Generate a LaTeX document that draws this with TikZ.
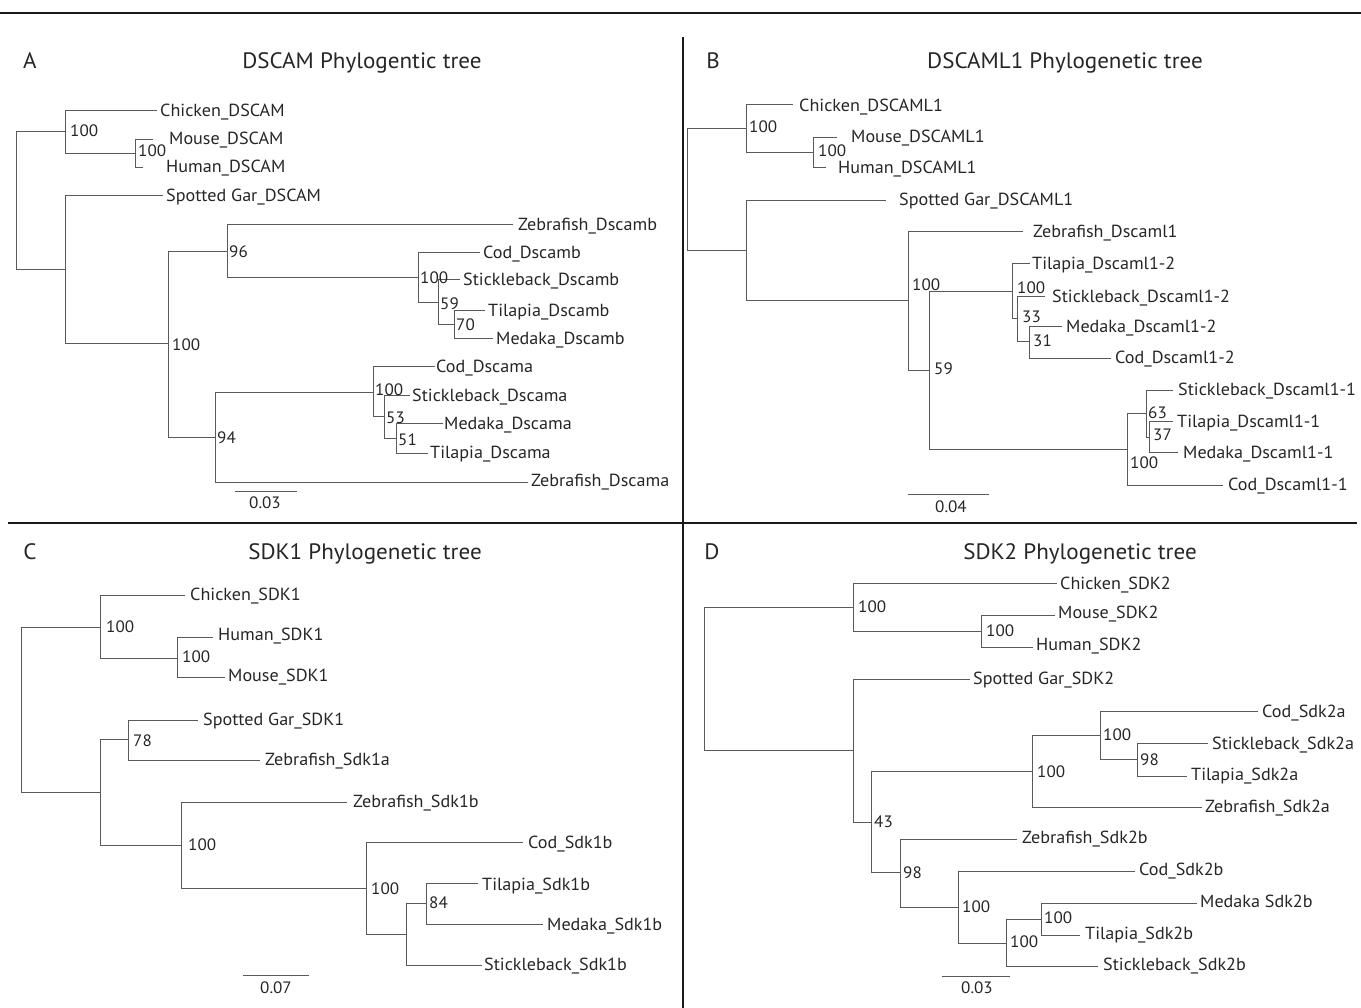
\documentclass[tikz,border=0pt]{standalone}
\usepackage{fontspec}
\setmainfont{PT Sans}[FakeStretch=1.035]
\newcommand\mytip[4]{\coordinate (#1) at (#2); \node[leaf] (#1-l) at (#3) {#4};}
\newcommand\mybs[3]{\node[bs] (#1) at (#2) {#3};}
\newcommand\clade[3]{\draw[branch] (#1) |- (#2) (#1) |- (#3);}
\begin{document}
\begin{tikzpicture}[x=1pt,y=-1pt,
  branch/.style={draw=black!65, line width=1pt},
  leaf/.style={anchor=base west, inner sep=0pt, yshift=-5.5pt, text=black!85, font=\fontsize{17.5}{20}\selectfont},
  bs/.style={leaf, font=\fontsize{16.5}{20}\selectfont},
  ttl/.style={anchor=base, inner sep=0pt, yshift=-7pt, text=black!85, font=\fontsize{22.3}{24}\selectfont},
  sclab/.style={anchor=base, inner sep=0pt, yshift=-5.5pt, text=black!85, font=\fontsize{16.5}{20}\selectfont},
  frame/.style={line width=2.5pt, black!90}]
\useasboundingbox (0,0) rectangle (1361,1008);
% frame
\coordinate (t1) at (0,13); \coordinate (t2) at (1361,13);
\coordinate (v1) at (683,37); \coordinate (v2) at (683,1008);
\coordinate (h1) at (8,523); \coordinate (h2) at (1357,523);
\draw[frame] (t1) -- (t2);
\draw[frame] (v1) -- (v2);
\draw[frame] (h1) -- (h2);
% titles
\node[ttl] (LA) at (30,62) {A};
\node[ttl] (TA) at (362,62) {DSCAM Phylogentic tree};
\node[ttl] (LB) at (713,62) {B};
\node[ttl] (TB) at (1065,62) {DSCAML1 Phylogenetic tree};
\node[ttl] (LC) at (30,552) {C};
\node[ttl] (TC) at (365,552) {SDK1 Phylogenetic tree};
\node[ttl] (LD) at (712,552) {D};
\node[ttl] (TD) at (1080,552) {SDK2 Phylogenetic tree};

% ================= Panel A
\coordinate (A0) at (16,201);
\coordinate (A1) at (65,132);
\coordinate (A2) at (135,154);
\coordinate (A3) at (65,270);
\coordinate (A4) at (168,344);
\coordinate (A5) at (227,252);
\coordinate (A6) at (418,278);
\coordinate (A7) at (438,303);
\coordinate (A7b) at (454,325);
\coordinate (A8) at (215,437);
\coordinate (A9) at (373,393);
\coordinate (A10) at (384,417);
\coordinate (A11) at (396,438);
\mytip{Achk}{157,111}{160,111}{Chicken\_DSCAM}
\mytip{Amou}{153,140}{169,139}{Mouse\_DSCAM}
\mytip{Ahum}{143,168}{166,167}{Human\_DSCAM}
\mytip{Agar}{163,196}{166,196}{Spotted Gar\_DSCAM}
\mytip{AzfB}{513,225}{518,225}{Zebrafish\_Dscamb}
\mytip{AcodB}{480,253}{483,253}{Cod\_Dscamb}
\mytip{AstkB}{460,280}{463,280}{Stickleback\_Dscamb}
\mytip{AtilB}{485,311}{488,311}{Tilapia\_Dscamb}
\mytip{AmedB}{493,339}{496,339}{Medaka\_Dscamb}
\mytip{AcodA}{435,367}{436,367}{Cod\_Dscama}
\mytip{AstkA}{410,396}{412,396}{Stickleback\_Dscama}
\mytip{AmedA}{443,424}{444,424}{Medaka\_Dscama}
\mytip{AtilA}{428,453}{430,453}{Tilapia\_Dscama}
\mytip{AzfA}{528,482}{531,481}{Zebrafish\_Dscama}
\clade{A0}{A1}{A3}
\clade{A1}{Achk}{A2}
\clade{A2}{Amou}{Ahum}
\clade{A3}{Agar}{A4}
\clade{A4}{A5}{A8}
\clade{A5}{AzfB}{A6}
\clade{A6}{AcodB}{A7}
\clade{A7}{AstkB}{A7b}
\clade{A7b}{AtilB}{AmedB}
\clade{A8}{A9}{AzfA}
\clade{A9}{AcodA}{A10}
\clade{A10}{AstkA}{A11}
\clade{A11}{AmedA}{AtilA}
\mybs{A1b}{70,131}{100}
\mybs{A2b}{138,151}{100}
\mybs{A5b}{229,252}{96}
\mybs{A4b}{172,345}{100}
\mybs{A8b}{217,438}{94}
\mybs{A6b}{420,278}{100}
\mybs{A7bb}{440,304}{59}
\mybs{A7cb}{456,325}{70}
\mybs{A9b}{375,390}{100}
\mybs{A10b}{386,418}{53}
\mybs{A11b}{398,440}{51}
\coordinate (Asb1) at (235,491); \coordinate (Asb2) at (297,491);
\draw[branch] (Asb1) -- (Asb2);
\node[sclab] (Asl) at (265,503) {0.03};

% ================= Panel B
\coordinate (B0) at (687,190);
\coordinate (B1) at (746,129);
\coordinate (B2) at (813,153);
\coordinate (B3) at (746,251);
\coordinate (B4) at (908,301);
\coordinate (B5) at (929,371);
\coordinate (B6) at (1012,292);
\coordinate (B7) at (1017,319);
\coordinate (B8) at (1029,342);
\coordinate (B9) at (1127,449);
\coordinate (B10) at (1146,414);
\coordinate (B11) at (1149,437);
\mytip{Bchk}{793,105}{799,106}{Chicken\_DSCAML1}
\mytip{Bmou}{837,138}{851,137}{Mouse\_DSCAML1}
\mytip{Bhum}{826,168}{838,168}{Human\_DSCAML1}
\mytip{Bgar}{886,201}{899,200}{Spotted Gar\_DSCAML1}
\mytip{Bzf}{1023,232}{1033,232}{Zebrafish\_Dscaml1}
\mytip{Btil2}{1030,264}{1032,264}{Tilapia\_Dscaml1-2}
\mytip{Bstk2}{1045,297}{1052,297}{Stickleback\_Dscaml1-2}
\mytip{Bmed2}{1062,327}{1066,327}{Medaka\_Dscaml1-2}
\mytip{Bcod2}{1111,359}{1115,358}{Cod\_Dscaml1-2}
\mytip{Bstk1}{1173,391}{1178,390}{Stickleback\_Dscaml1-1}
\mytip{Btil1}{1173,422}{1177,422}{Tilapia\_Dscaml1-1}
\mytip{Bmed1}{1178,452}{1183,453}{Medaka\_Dscaml1-1}
\mytip{Bcod1}{1223,485}{1228,485}{Cod\_Dscaml1-1}
\clade{B0}{B1}{B3}
\clade{B1}{Bchk}{B2}
\clade{B2}{Bmou}{Bhum}
\clade{B3}{Bgar}{B4}
\clade{B4}{Bzf}{B5}
\clade{B5}{B6}{B9}
\clade{B6}{Btil2}{B7}
\clade{B7}{Bstk2}{B8}
\clade{B8}{Bmed2}{Bcod2}
\clade{B9}{B10}{Bcod1}
\clade{B10}{Bstk1}{B11}
\clade{B11}{Btil1}{Bmed1}
\mybs{B1b}{749,127}{100}
\mybs{B2b}{818,151}{100}
\mybs{B4b}{912,285}{100}
\mybs{B5b}{934,369}{59}
\mybs{B6b}{1017,288}{100}
\mybs{B7b}{1022,317}{33}
\mybs{B8b}{1033,341}{31}
\mybs{B9b}{1130,463}{100}
\mybs{B10b}{1148,413}{63}
\mybs{B11b}{1153,435}{37}
\coordinate (Bsb1) at (908,494); \coordinate (Bsb2) at (989,494);
\draw[branch] (Bsb1) -- (Bsb2);
\node[sclab] (Bsl) at (951,507) {0.04};

% ================= Panel C
\coordinate (C0) at (21,709);
\coordinate (C1) at (100,627);
\coordinate (C2) at (177,658);
\coordinate (C3) at (100,792);
\coordinate (C4) at (128,739);
\coordinate (C5) at (181,845);
\coordinate (C6) at (366,888);
\coordinate (C7) at (406,934);
\coordinate (C8) at (426,903);
\mytip{Cchk}{185,595}{190,595}{Chicken\_SDK1}
\mytip{Chum}{213,637}{218,635}{Human\_SDK1}
\mytip{Cmou}{225,677}{228,676}{Mouse\_SDK1}
\mytip{Cgar}{198,720}{203,720}{Spotted Gar\_SDK1}
\mytip{CzfA}{260,760}{265,760}{Zebrafish\_Sdk1a}
\mytip{CzfB}{347,802}{353,802}{Zebrafish\_Sdk1b}
\mytip{Ccod}{523,842}{528,843}{Cod\_Sdk1b}
\mytip{Ctil}{478,883}{482,885}{Tilapia\_Sdk1b}
\mytip{Cmed}{543,924}{547,925}{Medaka\_Sdk1b}
\mytip{Cstk}{482,965}{484,965}{Stickleback\_Sdk1b}
\clade{C0}{C1}{C3}
\clade{C1}{Cchk}{C2}
\clade{C2}{Chum}{Cmou}
\clade{C3}{C4}{C5}
\clade{C4}{Cgar}{CzfA}
\clade{C5}{CzfB}{C6}
\clade{C6}{Ccod}{C7}
\clade{C7}{C8}{Cstk}
\clade{C8}{Ctil}{Cmed}
\mybs{C1b}{106,627}{100}
\mybs{C2b}{182,657}{100}
\mybs{C4b}{133,741}{78}
\mybs{C5b}{188,845}{100}
\mybs{C6b}{371,889}{100}
\mybs{C8b}{429,903}{84}
\coordinate (Csb1) at (243,975); \coordinate (Csb2) at (309,975);
\draw[branch] (Csb1) -- (Csb2);
\node[sclab] (Csl) at (276,988) {0.07};

% ================= Panel D
\coordinate (D0) at (704,678);
\coordinate (D1) at (853,607);
\coordinate (D2) at (981,631);
\coordinate (D3) at (853,750);
\coordinate (D4) at (871,822);
\coordinate (D5) at (1032,771);
\coordinate (D6) at (1100,735);
\coordinate (D7) at (1137,759);
\coordinate (D8) at (900,872);
\coordinate (D9) at (958,907);
\coordinate (D10) at (1006,943);
\coordinate (D11) at (1041,919);
\mytip{Dchk}{1057,583}{1060,584}{Chicken\_SDK2}
\mytip{Dmou}{1055,615}{1058,613}{Mouse\_SDK2}
\mytip{Dhum}{1033,647}{1036,645}{Human\_SDK2}
\mytip{Dgar}{970,679}{973,679}{Spotted Gar\_SDK2}
\mytip{Dcoda}{1258,711}{1262,712}{Cod\_Sdk2a}
\mytip{Dstka}{1208,743}{1212,744}{Stickleback\_Sdk2a}
\mytip{Dtila}{1187,776}{1191,775}{Tilapia\_Sdk2a}
\mytip{Dzfa}{1202,807}{1205,807}{Zebrafish\_Sdk2a}
\mytip{Dzfb}{1017,839}{1022,838}{Zebrafish\_Sdk2b}
\mytip{Dcodb}{1135,871}{1139,870}{Cod\_Sdk2b}
\mytip{Dmedb}{1197,903}{1200,902}{Medaka Sdk2b}
\mytip{Dtilb}{1080,935}{1085,934}{Tilapia\_Sdk2b}
\mytip{Dstkb}{1098,966}{1103,965}{Stickleback\_Sdk2b}
\clade{D0}{D1}{D3}
\clade{D1}{Dchk}{D2}
\clade{D2}{Dmou}{Dhum}
\clade{D3}{Dgar}{D4}
\clade{D4}{D5}{D8}
\clade{D5}{D6}{Dzfa}
\clade{D6}{Dcoda}{D7}
\clade{D7}{Dstka}{Dtila}
\clade{D8}{Dzfb}{D9}
\clade{D9}{Dcodb}{D10}
\clade{D10}{D11}{Dstkb}
\clade{D11}{Dmedb}{Dtilb}
\mybs{D1b}{858,607}{100}
\mybs{D2b}{986,631}{100}
\mybs{D4b}{874,822}{43}
\mybs{D5b}{1037,772}{100}
\mybs{D6b}{1103,735}{100}
\mybs{D7b}{1140,760}{98}
\mybs{D8b}{903,873}{98}
\mybs{D9b}{962,907}{100}
\mybs{D10b}{1010,942}{100}
\mybs{D11b}{1044,918}{100}
\coordinate (Dsb1) at (942,976); \coordinate (Dsb2) at (1010,976);
\draw[branch] (Dsb1) -- (Dsb2);
\node[sclab] (Dsl) at (977,988) {0.03};
\end{tikzpicture}
\end{document}
